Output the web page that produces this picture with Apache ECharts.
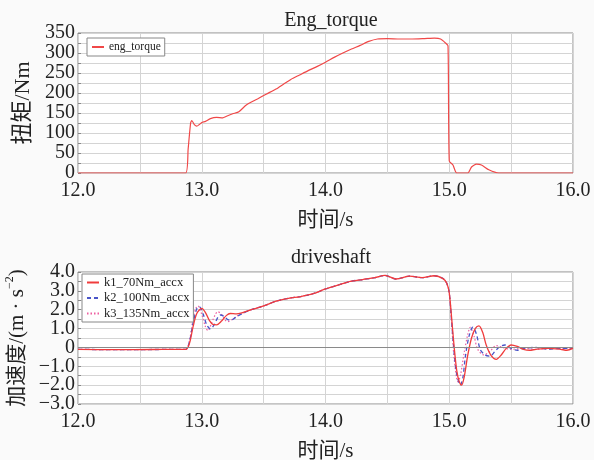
<!DOCTYPE html>
<html>
<head>
<meta charset="utf-8">
<script src="https://cdn.jsdelivr.net/npm/echarts@6/dist/echarts.min.js"></script>
<style>
  html, body { margin: 0; padding: 0; background: #fafafa; }
  #chart { width: 594px; height: 460px; }
</style>
</head>
<body>
<div id="chart"></div>
<script>
// Engine torque [time s, torque Nm]
const engTorque = [
  [12.0,0],[12.87,0],[12.89,60],[12.91,125],[12.92,131],[12.94,121],[12.96,117],[12.98,121],
  [13.0,126],[13.03,129],[13.07,136],[13.12,139],[13.17,138],[13.2,142],[13.25,148],[13.3,153],
  [13.36,170],[13.45,185],[13.52,197],[13.6,210],[13.66,222],[13.72,234],[13.79,245],[13.86,256],
  [13.93,266],[14.0,277],[14.07,289],[14.14,300],[14.21,310],[14.28,319],[14.35,329],[14.42,335],
  [14.5,336],[14.6,335],[14.7,335],[14.8,336],[14.88,337],[14.93,335],[14.97,325],[14.99,318],
  [15.0,30],[15.03,20],[15.06,0],[15.15,0],[15.18,15],[15.22,22],[15.26,20],[15.32,8],[15.4,0],[16.0,0]
];

// Driveshaft acceleration [time s, m/s^2]
const accIdle = [[12.0,-0.1],[12.3,-0.12],[12.6,-0.11],[12.87,-0.1]];
const accRamp = [
  [13.4,2.0],[13.5,2.2],[13.6,2.45],[13.7,2.6],[13.8,2.7],[13.9,2.85],[14.0,3.1],[14.1,3.3],
  [14.2,3.5],[14.3,3.6],[14.4,3.7],[14.48,3.82],[14.57,3.63],[14.68,3.78],[14.78,3.7],[14.88,3.8],
  [14.95,3.65],[14.98,3.4],[15.0,2.9]
];
const k1Launch = [
  [12.9,0.2],[12.93,1.1],[12.96,1.8],[13.0,2.07],[13.03,1.85],[13.06,1.45],[13.09,1.22],[13.12,1.2],
  [13.16,1.4],[13.2,1.7],[13.23,1.8],[13.28,1.78],[13.33,1.85]
];
const k1Release = [
  [15.02,1.5],[15.04,0.0],[15.06,-1.2],[15.08,-1.8],[15.1,-2.0],[15.12,-1.6],[15.15,-0.4],
  [15.18,0.5],[15.21,1.0],[15.24,1.14],[15.27,0.8],[15.3,0.1],[15.34,-0.45],[15.38,-0.63],
  [15.42,-0.4],[15.46,-0.05],[15.5,0.13],[15.55,0.05],[15.6,-0.1],[15.65,-0.15],[15.7,-0.1],
  [15.8,-0.05],[15.9,-0.1],[15.95,-0.15],[16.0,-0.05]
];
const k2Launch = [
  [12.9,0.3],[12.93,1.3],[12.96,2.05],[12.98,2.16],[13.01,1.8],[13.04,1.2],[13.07,0.98],[13.1,1.2],
  [13.13,1.6],[13.15,1.72],[13.18,1.65],[13.21,1.48],[13.24,1.46],[13.28,1.62],[13.33,1.8]
];
const k2Release = [
  [15.02,1.3],[15.04,-0.3],[15.06,-1.4],[15.09,-2.0],[15.11,-1.6],[15.13,-0.5],[15.16,0.6],
  [15.19,1.07],[15.22,0.7],[15.25,-0.1],[15.29,-0.4],[15.33,-0.46],[15.37,-0.2],[15.41,0.05],
  [15.45,0.13],[15.5,-0.05],[15.55,-0.15],[15.6,-0.05],[15.7,0.0],[15.8,-0.1],[15.9,-0.05],[16.0,-0.05]
];
const k3Launch = [
  [12.9,0.35],[12.93,1.5],[12.95,2.05],[12.97,2.2],[13.0,1.75],[13.03,1.1],[13.05,0.89],[13.08,1.3],
  [13.11,1.75],[13.13,1.89],[13.16,1.75],[13.19,1.45],[13.21,1.37],[13.25,1.5],[13.3,1.72]
];
const k3Release = [
  [15.02,1.2],[15.04,-0.6],[15.07,-1.82],[15.09,-1.5],[15.12,-0.3],[15.15,0.7],[15.17,1.07],
  [15.2,0.6],[15.23,-0.1],[15.28,-0.4],[15.33,-0.2],[15.38,0.1],[15.43,0.0],[15.5,-0.1],
  [15.6,-0.05],[15.7,-0.1],[15.8,-0.05],[16.0,-0.05]
];

const seriesNames = ['k1_70Nm_accx', 'k2_100Nm_accx', 'k3_135Nm_accx'];
const xTicks = { min: 12, max: 16, step: 0.5 };

const k1 = accIdle.concat(k1Launch, accRamp, k1Release);
const k2 = accIdle.concat(k2Launch, accRamp, k2Release);
const k3 = accIdle.concat(k3Launch, accRamp, k3Release);

const serif = '"Liberation Serif", "Times New Roman", serif';
const cjk = '"Liberation Serif", "Noto Sans CJK SC", serif';
const gridColor = '#d4d4d4';
const txt = '#222';

function xAxis(gridIndex) {
  return {
    type: 'value', gridIndex, min: xTicks.min, max: xTicks.max, interval: xTicks.step,
    name: '时间/s', nameLocation: 'middle', nameGap: 37,
    nameTextStyle: { fontFamily: cjk, fontSize: 21, color: txt },
    axisLine: { show: false }, axisTick: { show: false },
    axisLabel: {
      fontFamily: serif, fontSize: 20, color: txt, margin: 8,
      formatter: v => (Math.abs(v % 1) < 1e-9 ? v.toFixed(1) : '')
    },
    splitLine: { show: true, lineStyle: { color: gridColor, width: 1 } }
  };
}

const yTick = { show: true, inside: true, length: 3, lineStyle: { color: '#888' } };

const chart = echarts.init(document.getElementById('chart'));
chart.setOption({
  backgroundColor: '#fafafa',
  animation: false,
  title: [
    { text: 'Eng_torque', left: 326, top: 6, textAlign: 'center',
      textStyle: { fontFamily: serif, fontSize: 20, fontWeight: 'normal', color: txt } },
    { text: 'driveshaft', left: 326, top: 243, textAlign: 'center',
      textStyle: { fontFamily: serif, fontSize: 20, fontWeight: 'normal', color: txt } }
  ],
  legend: [
    { data: ['eng_torque'], left: 87, top: 38, orient: 'vertical',
      borderColor: '#888', borderWidth: 1, padding: [3, 4, 3, 4], itemWidth: 12, itemHeight: 10,
      itemGap: 2, backgroundColor: '#fff', itemStyle: { opacity: 0 },
      textStyle: { fontFamily: serif, fontSize: 11.5, color: txt } },
    { data: seriesNames, left: 82, top: 274, orient: 'vertical',
      borderColor: '#888', borderWidth: 1, padding: [2, 4, 2, 4], itemWidth: 12, itemHeight: 11,
      itemGap: 2.5, backgroundColor: '#fff', itemStyle: { opacity: 0 },
      textStyle: { fontFamily: serif, fontSize: 12.5, color: txt } }
  ],
  grid: [
    { left: 78, right: 21, top: 33, height: 140, show: true, backgroundColor: '#fff',
      borderColor: '#8a8a8a', borderWidth: 1, outerBoundsMode: 'none', containLabel: false },
    { left: 78, right: 21, top: 272, height: 132, show: true, backgroundColor: '#fff',
      borderColor: '#8a8a8a', borderWidth: 1, outerBoundsMode: 'none', containLabel: false }
  ],
  xAxis: [xAxis(0), xAxis(1)],
  yAxis: [
    { type: 'value', gridIndex: 0, min: 0, max: 350, interval: 25,
      name: '扭矩/Nm', nameLocation: 'middle', nameGap: 42,
      nameTextStyle: { fontFamily: cjk, fontSize: 22, color: txt },
      axisLine: { show: false }, axisTick: yTick,
      axisLabel: { fontFamily: serif, fontSize: 20, color: txt, margin: 3,
        formatter: v => (v % 50 === 0 ? String(v) : '') },
      splitLine: { lineStyle: { color: gridColor, width: 1 } } },
    { type: 'value', gridIndex: 1, min: -3, max: 4, interval: 0.5,
      name: '{n|加速度/(m · s}{s|−2}{n|)}', nameLocation: 'middle', nameGap: 47,
      nameTextStyle: { fontFamily: cjk, fontSize: 21, color: txt,
        rich: { n: { fontFamily: cjk, fontSize: 21, color: txt },
                s: { fontFamily: serif, fontSize: 12, color: txt, verticalAlign: 'top', lineHeight: 26 } } },
      axisLine: { show: false }, axisTick: yTick,
      axisLabel: { fontFamily: serif, fontSize: 20, color: txt, margin: 3,
        formatter: v => {
          if (Math.abs(v % 1) > 1e-9) return '';
          if (v === 0) return '0';
          return (v < 0 ? '−' : '') + Math.abs(v).toFixed(1);
        } },
      splitLine: { lineStyle: { color: gridColor, width: 1 } } }
  ],
  series: [
    { name: 'eng_torque', type: 'line', xAxisIndex: 0, yAxisIndex: 0, data: engTorque,
      symbol: 'none', smooth: 0.2, lineStyle: { color: '#f04848', width: 1.2 }, itemStyle: { color: '#f04848' } },
    { name: seriesNames[0], type: 'line', xAxisIndex: 1, yAxisIndex: 1, data: k1,
      symbol: 'none', smooth: 0.3, z: 4, lineStyle: { color: '#f03c3c', width: 1.3 }, itemStyle: { color: '#f03c3c' },
      markLine: { silent: true, symbol: 'none', label: { show: false },
        lineStyle: { color: '#8a8a8a', type: 'solid', width: 1 }, data: [{ yAxis: 0 }] } },
    { name: seriesNames[1], type: 'line', xAxisIndex: 1, yAxisIndex: 1, data: k2,
      symbol: 'none', smooth: 0.3, z: 3, lineStyle: { color: '#4a55c8', width: 1.3, type: [4, 3] }, itemStyle: { color: '#4a55c8' } },
    { name: seriesNames[2], type: 'line', xAxisIndex: 1, yAxisIndex: 1, data: k3,
      symbol: 'none', smooth: 0.3, z: 2, lineStyle: { color: '#ee5fa0', width: 1.2, type: [1.5, 2] }, itemStyle: { color: '#ee5fa0' } }
  ]
});
</script>
</body>
</html>
